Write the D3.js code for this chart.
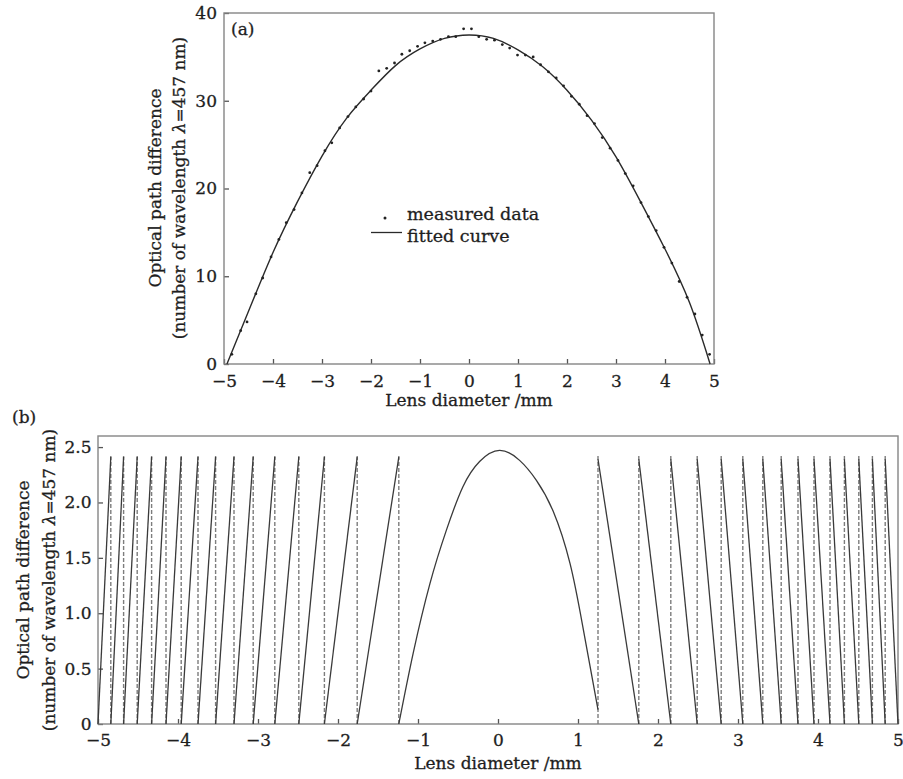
<!DOCTYPE html>
<html>
<head>
<meta charset="utf-8">
<script src="https://cdn.jsdelivr.net/npm/d3@7"></script>
<style>
  body { margin: 0; background: #fff; }
  text { font-family: "DejaVu Serif", serif; fill: #1e1e1e; stroke: #1e1e1e; stroke-width: 0.3px; }
</style>
</head>
<body>
<div id="chart"></div>
<script>
// ---- data ----
var xTicks = [-5, -4, -3, -2, -1, 0, 1, 2, 3, 4, 5];
var yTicksA = [0, 10, 20, 30, 40];
var yTicksB = [0, 0.5, 1.0, 1.5, 2.0, 2.5];

// (a) measured points
var measuredX = [-4.84, -4.66, -4.53, -4.35, -4.21, -4.04, -3.88, -3.73, -3.57, -3.41, -3.25, -3.10,
	-2.94, -2.80, -2.64, -2.47, -2.31, -2.15, -2.00, -1.84, -1.68, -1.52, -1.37, -1.21, -1.05, -0.90,
	-0.74, -0.58, -0.42, -0.27, -0.11, 0.05, 0.20, 0.36, 0.52, 0.68, 0.83, 0.99, 1.15, 1.31, 1.46,
	1.62, 1.78, 1.93, 2.09, 2.25, 2.41, 2.56, 2.72, 2.88, 3.04, 3.19, 3.35, 3.51, 3.66, 3.82, 3.98,
	4.14, 4.29, 4.45, 4.61, 4.76, 4.91];
var measuredY = [1.1, 3.8, 4.8, 8.0, 9.8, 12.2, 14.2, 16.1, 17.6, 19.5, 21.8, 22.6,
	24.3, 25.2, 26.9, 28.2, 29.3, 30.2, 31.1, 33.4, 33.7, 34.3, 35.3, 35.7, 36.2, 36.6,
	36.8, 37.0, 37.3, 37.3, 38.2, 38.2, 37.3, 37.0, 36.9, 36.4, 36.0, 35.2, 35.2, 35.0, 34.1,
	33.3, 32.6, 31.7, 30.5, 29.6, 28.3, 27.4, 25.8, 24.6, 23.2, 21.7, 20.3, 18.4, 16.8, 15.2, 13.3,
	11.5, 9.4, 7.6, 5.7, 3.3, 1.1];

// (a) fitted curve
var fitX = [-4.94, -4.5, -4, -3.5, -3, -2.5, -2, -1.5, -1, -0.5, 0, 0.5, 1, 1.5, 2, 2.5, 3, 3.5, 4, 4.5, 4.92];
var fitY = [0, 6.0, 12.7, 18.5, 23.7, 28.0, 31.2, 34.0, 35.9, 37.1, 37.5, 37.1, 35.8, 33.9, 31.2, 27.8, 23.6, 18.5, 13.1, 7.0, 0];

// (b) wrap positions and levels
var wrapLeft = [-5.0, -4.84, -4.68, -4.51, -4.33, -4.15, -3.96, -3.75, -3.53, -3.30, -3.06, -2.79, -2.49, -2.17, -1.76, -1.24];
var wrapRight = [1.25, 1.76, 2.16, 2.49, 2.79, 3.06, 3.31, 3.54, 3.75, 3.95, 4.15, 4.33, 4.51, 4.68, 4.84, 5.0];
var sawTopLeft = 2.41;
var sawTopRight = 2.39;
var dashTop = 2.43;

// (b) central arc
var arcX = [-1.24, -1.06, -0.85, -0.645, -0.44, -0.23, 0.02, 0.27, 0.48, 0.69, 0.90, 1.06, 1.25];
var arcY = [0, 0.64, 1.27, 1.75, 2.14, 2.37, 2.47, 2.38, 2.20, 1.92, 1.45, 0.88, 0.13];

// ---- layout ----
var width = 903;
var height = 779;
var frameColor = '#858585';
var lineColor = '#2a2a2a';

var svg = d3.select('#chart')
	.append('svg')
	.attr('width', width)
	.attr('height', height);

svg.append('rect').attr('width', width).attr('height', height).attr('fill', '#fff');

var minus = function(d) { return d < 0 ? '\u2212' + Math.abs(d) : '' + d; };

// ================= (a) =================
var xA = d3.scaleLinear().domain([-5, 5]).range([224, 714]);
var yA = d3.scaleLinear().domain([0, 40]).range([364, 13]);

svg.append('g')
	.attr('transform', 'translate(0,' + yA(0) + ')')
	.call(d3.axisBottom(xA).tickValues(xTicks).tickFormat(minus).tickSizeInner(-5).tickSizeOuter(0).tickPadding(11))
	.call(function(g) { g.select('.domain').remove(); });

svg.append('g')
	.attr('transform', 'translate(' + xA(-5) + ',0)')
	.call(d3.axisLeft(yA).tickValues(yTicksA).tickSizeInner(-5).tickSizeOuter(0).tickPadding(7))
	.call(function(g) { g.select('.domain').remove(); });

svg.append('rect')
	.attr('x', xA(-5)).attr('y', yA(40))
	.attr('width', xA(5) - xA(-5)).attr('height', yA(0) - yA(40))
	.attr('fill', 'none').attr('stroke', frameColor).attr('stroke-width', 1.4);

var fitData = fitX.map(function(x, i) { return [x, fitY[i]]; });
svg.append('path')
	.datum(fitData)
	.attr('fill', 'none')
	.attr('stroke', lineColor)
	.attr('stroke-width', 1.4)
	.attr('d', d3.line().x(function(d) { return xA(d[0]); }).y(function(d) { return yA(d[1]); }).curve(d3.curveNatural));

svg.append('g').selectAll('circle')
	.data(measuredX.map(function(x, i) { return [x, measuredY[i]]; }))
	.join('circle')
	.attr('cx', function(d) { return xA(d[0]); })
	.attr('cy', function(d) { return yA(d[1]); })
	.attr('r', 1.4)
	.attr('fill', '#222');

// legend
svg.append('circle').attr('cx', 385).attr('cy', 218).attr('r', 1.5).attr('fill', '#222');
svg.append('text').attr('x', 407).attr('y', 219.5).attr('font-size', 17.5).text('measured data');
svg.append('line').attr('x1', 371).attr('x2', 402).attr('y1', 232.5).attr('y2', 232.5)
	.attr('stroke', lineColor).attr('stroke-width', 1.3);
svg.append('text').attr('x', 407).attr('y', 241.5).attr('font-size', 17.5).text('fitted curve');

svg.append('text').attr('x', 231).attr('y', 35).attr('font-size', 17).text('(a)');

svg.append('text').attr('x', 469).attr('y', 406).attr('font-size', 17).attr('text-anchor', 'middle').text('Lens diameter /mm');

var yLabel = function(x1, x2, cy) {
	svg.append('text')
		.attr('transform', 'translate(' + x1 + ',' + cy + ') rotate(-90)')
		.attr('font-size', 17).attr('text-anchor', 'middle')
		.text('Optical path difference');
	var t = svg.append('text')
		.attr('transform', 'translate(' + x2 + ',' + cy + ') rotate(-90)')
		.attr('font-size', 17).attr('text-anchor', 'middle');
	t.append('tspan').text('(number of wavelength ');
	t.append('tspan').attr('font-style', 'italic').text('\u03bb');
	t.append('tspan').text('=457 nm)');
};
yLabel(161, 185, 188);

// ================= (b) =================
var xB = d3.scaleLinear().domain([-5, 5]).range([98, 898]);
var yB = d3.scaleLinear().domain([0, 2.6]).range([724, 436]);

svg.append('g')
	.attr('transform', 'translate(0,' + yB(0) + ')')
	.call(d3.axisBottom(xB).tickValues(xTicks).tickFormat(minus).tickSizeInner(-5).tickSizeOuter(0).tickPadding(10))
	.call(function(g) { g.select('.domain').remove(); });

svg.append('g')
	.attr('transform', 'translate(' + xB(-5) + ',0)')
	.call(d3.axisLeft(yB).tickValues(yTicksB)
		.tickFormat(function(d) { return d === 0 ? '0' : d3.format('.1f')(d); })
		.tickSizeInner(-5).tickSizeOuter(0).tickPadding(6.5))
	.call(function(g) { g.select('.domain').remove(); });

svg.selectAll('.tick line').attr('stroke', '#555').attr('stroke-width', 1.3);
svg.selectAll('.tick text').attr('font-size', 17).attr('font-family', '"DejaVu Serif", serif').attr('fill', '#1e1e1e');

svg.append('rect')
	.attr('x', xB(-5)).attr('y', yB(2.6))
	.attr('width', xB(5) - xB(-5)).attr('height', yB(0) - yB(2.6))
	.attr('fill', 'none').attr('stroke', frameColor).attr('stroke-width', 1.4);

// dashed wrap lines
var dashX = wrapLeft.slice(1).concat(wrapRight.slice(0, -1));
svg.append('g').selectAll('line')
	.data(dashX)
	.join('line')
	.attr('x1', function(d) { return xB(d); })
	.attr('x2', function(d) { return xB(d); })
	.attr('y1', yB(0))
	.attr('y2', yB(dashTop))
	.attr('stroke', '#7d7d7d')
	.attr('stroke-width', 1.4)
	.attr('stroke-dasharray', '4,2');

// sawtooth segments
var segs = [];
for (var i = 0; i < wrapLeft.length - 1; i++) {
	segs.push([[wrapLeft[i], 0], [wrapLeft[i + 1], sawTopLeft]]);
}
for (var j = 0; j < wrapRight.length - 1; j++) {
	segs.push([[wrapRight[j], sawTopRight], [wrapRight[j + 1], 0]]);
}
var lineB = d3.line().x(function(d) { return xB(d[0]); }).y(function(d) { return yB(d[1]); });
svg.append('g').selectAll('path')
	.data(segs)
	.join('path')
	.attr('fill', 'none')
	.attr('stroke', '#3a3a3a')
	.attr('stroke-width', 1.3)
	.attr('d', lineB);

svg.append('path')
	.datum(arcX.map(function(x, i) { return [x, arcY[i]]; }))
	.attr('fill', 'none')
	.attr('stroke', '#3a3a3a')
	.attr('stroke-width', 1.3)
	.attr('d', lineB.curve(d3.curveNatural));

svg.append('text').attr('x', 12).attr('y', 423).attr('font-size', 17).text('(b)');
svg.append('text').attr('x', 498).attr('y', 769).attr('font-size', 17).attr('text-anchor', 'middle').text('Lens diameter /mm');
yLabel(29, 55, 580);
</script>
</body>
</html>
